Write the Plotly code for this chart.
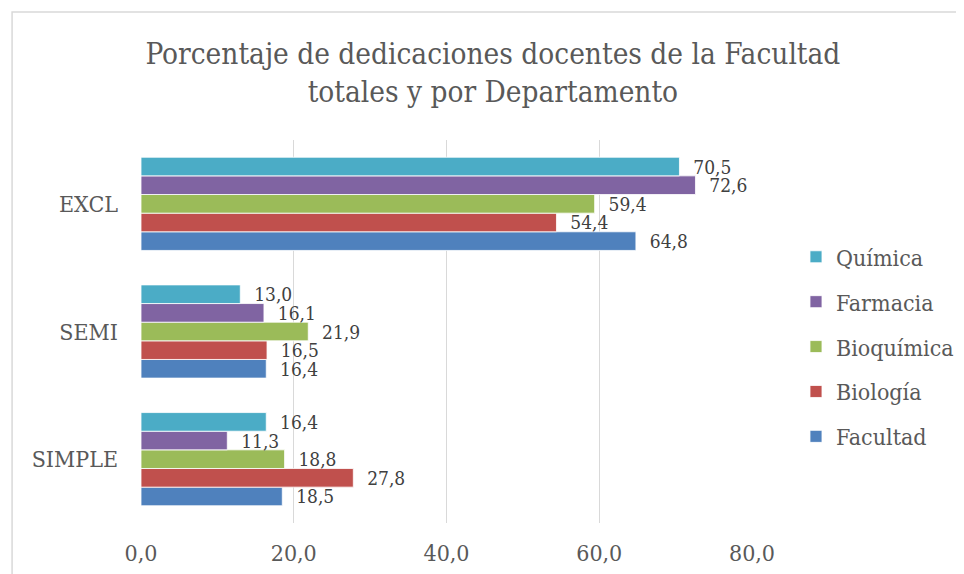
import plotly.graph_objects as go

categorias = ["SIMPLE", "SEMI", "EXCL"]
series = ["Facultad", "Biología", "Bioquímica", "Farmacia", "Química"]
facultad = [18.5, 16.4, 64.8]
biologia = [27.8, 16.5, 54.4]
bioquimica = [18.8, 21.9, 59.4]
farmacia = [11.3, 16.1, 72.6]
quimica = [16.4, 13.0, 70.5]
valores = [facultad, biologia, bioquimica, farmacia, quimica]
colores = ["#4F81BD", "#C0504D", "#9BBB59", "#8064A2", "#4BACC6"]
ticks_x = [0, 20, 40, 60, 80]

FONT = "DejaVu Serif Condensed, DejaVu Serif, serif"

fig = go.Figure()
for i, (nombre, vals, color) in enumerate(zip(series, valores, colores)):
  fig.add_trace(go.Bar(
    x=vals,
    y=categorias,
    name=nombre,
    orientation='h',
    marker=dict(color=color, line=dict(color='white', width=0.8)),
    texttemplate='\u00a0\u00a0%{x:.1f}',
    textposition='outside',
    constraintext='none',
    cliponaxis=False,
    textfont=dict(size=19, color='#404040', family=FONT),
    legendgroup=nombre,
    legendrank=len(series) - i,  # Química arriba en la leyenda
  ))

# la página html tiene 8px de margen en el body
fig.update_layout(
  width=964, height=574,
  separators=',.',
  barmode='group',
  bargap=0.27,
  bargroupgap=0,
  plot_bgcolor='white',
  paper_bgcolor='white',
  font=dict(family=FONT, color='#595959'),
  margin=dict(l=133, r=220, t=132, b=59, autoexpand=False),
  title=dict(
    text="Porcentaje de dedicaciones docentes de la Facultad<br>totales y por Departamento",
    x=0.503, xref='container', xanchor='center',
    y=1 - 56/574, yref='container', yanchor='top',
    font=dict(size=29.5, color='#595959', family=FONT),
  ),
  xaxis=dict(
    range=[0, 80],
    tickvals=ticks_x,
    tickformat='.1f',
    showgrid=True, gridcolor='#D9D9D9', gridwidth=1,
    zeroline=False, showline=False,
    tickfont=dict(size=23, color='#595959'),
    ticklabelstandoff=14,
    automargin=False,
  ),
  yaxis=dict(
    showgrid=False, zeroline=False, showline=False,
    tickfont=dict(size=23, color='#595959'),
    ticklabelstandoff=22,
    automargin=False,
  ),
  legend=dict(
    traceorder='grouped',
    x=1.072, xanchor='left',
    y=0.46, yanchor='middle',
    font=dict(size=23, color='#595959'),
    tracegroupgap=12,
  ),
  shapes=[dict(
    type='rect', xref='paper', yref='paper',
    x0=-0.211, x1=1.6, y0=-0.5, y1=1.334,
    line=dict(color='#D9D9D9', width=1.5),
    fillcolor='rgba(0,0,0,0)', layer='below',
  )],
)

fig.write_html("out.html")
